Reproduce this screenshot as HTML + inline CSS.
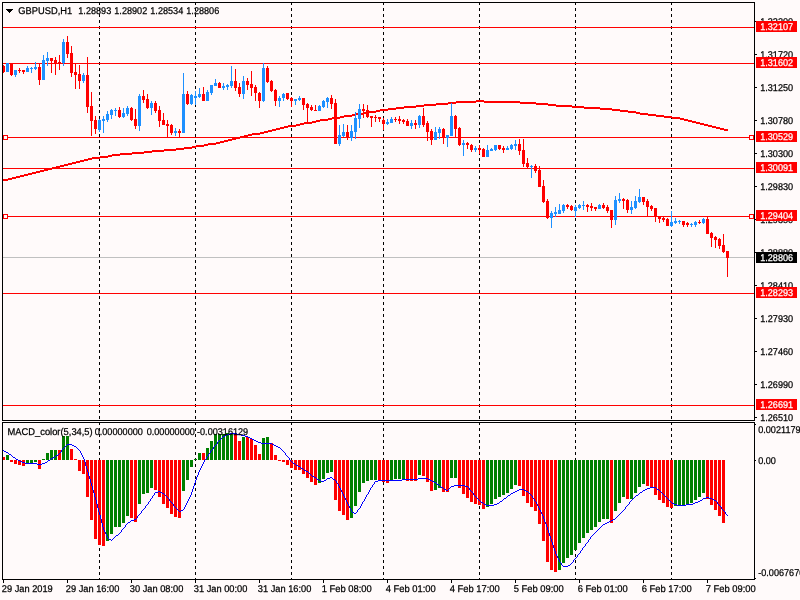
<!DOCTYPE html>
<html><head><meta charset="utf-8"><title>GBPUSD,H1</title>
<style>
html,body{margin:0;padding:0;background:#FFFAFA;}
body{width:800px;height:600px;overflow:hidden;font-family:"Liberation Sans",Arial,sans-serif;}
svg{display:block;}
</style></head><body>
<svg width="800" height="600" viewBox="0 0 800 600" shape-rendering="crispEdges">
<rect width="800" height="600" fill="#FFFAFA"/>
<line x1="99.5" y1="2" x2="99.5" y2="420" stroke="#000" stroke-width="1" stroke-dasharray="3 3"/>
<line x1="99.5" y1="422" x2="99.5" y2="579" stroke="#000" stroke-width="1" stroke-dasharray="3 3"/>
<line x1="195.5" y1="2" x2="195.5" y2="420" stroke="#000" stroke-width="1" stroke-dasharray="3 3"/>
<line x1="195.5" y1="422" x2="195.5" y2="579" stroke="#000" stroke-width="1" stroke-dasharray="3 3"/>
<line x1="291.5" y1="2" x2="291.5" y2="420" stroke="#000" stroke-width="1" stroke-dasharray="3 3"/>
<line x1="291.5" y1="422" x2="291.5" y2="579" stroke="#000" stroke-width="1" stroke-dasharray="3 3"/>
<line x1="383.5" y1="2" x2="383.5" y2="420" stroke="#000" stroke-width="1" stroke-dasharray="3 3"/>
<line x1="383.5" y1="422" x2="383.5" y2="579" stroke="#000" stroke-width="1" stroke-dasharray="3 3"/>
<line x1="479.5" y1="2" x2="479.5" y2="420" stroke="#000" stroke-width="1" stroke-dasharray="3 3"/>
<line x1="479.5" y1="422" x2="479.5" y2="579" stroke="#000" stroke-width="1" stroke-dasharray="3 3"/>
<line x1="575.5" y1="2" x2="575.5" y2="420" stroke="#000" stroke-width="1" stroke-dasharray="3 3"/>
<line x1="575.5" y1="422" x2="575.5" y2="579" stroke="#000" stroke-width="1" stroke-dasharray="3 3"/>
<line x1="671.5" y1="2" x2="671.5" y2="420" stroke="#000" stroke-width="1" stroke-dasharray="3 3"/>
<line x1="671.5" y1="422" x2="671.5" y2="579" stroke="#000" stroke-width="1" stroke-dasharray="3 3"/>
<rect x="3" y="257" width="751" height="1" fill="#C0C0C0"/>
<rect x="3" y="27" width="751" height="1" fill="#FF0000"/>
<rect x="3" y="63" width="751" height="1" fill="#FF0000"/>
<rect x="3" y="137" width="751" height="1" fill="#FF0000"/>
<rect x="3" y="168" width="751" height="1" fill="#FF0000"/>
<rect x="3" y="216" width="751" height="1" fill="#FF0000"/>
<rect x="3" y="293" width="751" height="1" fill="#FF0000"/>
<rect x="3" y="405" width="751" height="1" fill="#FF0000"/>
<rect x="3" y="179" width="5" height="2" fill="#FF0000"/>
<rect x="8" y="178" width="4" height="2" fill="#FF0000"/>
<rect x="12" y="177" width="4" height="2" fill="#FF0000"/>
<rect x="16" y="176" width="4" height="2" fill="#FF0000"/>
<rect x="20" y="175" width="4" height="2" fill="#FF0000"/>
<rect x="24" y="174" width="4" height="2" fill="#FF0000"/>
<rect x="28" y="173" width="4" height="2" fill="#FF0000"/>
<rect x="32" y="172" width="4" height="2" fill="#FF0000"/>
<rect x="36" y="171" width="4" height="2" fill="#FF0000"/>
<rect x="40" y="170" width="4" height="2" fill="#FF0000"/>
<rect x="44" y="169" width="4" height="2" fill="#FF0000"/>
<rect x="48" y="168" width="4" height="2" fill="#FF0000"/>
<rect x="52" y="167" width="4" height="2" fill="#FF0000"/>
<rect x="56" y="166" width="4" height="2" fill="#FF0000"/>
<rect x="60" y="165" width="4" height="2" fill="#FF0000"/>
<rect x="64" y="164" width="4" height="2" fill="#FF0000"/>
<rect x="68" y="163" width="4" height="2" fill="#FF0000"/>
<rect x="72" y="162" width="4" height="2" fill="#FF0000"/>
<rect x="76" y="161" width="4" height="2" fill="#FF0000"/>
<rect x="80" y="160" width="4" height="2" fill="#FF0000"/>
<rect x="84" y="159" width="4" height="2" fill="#FF0000"/>
<rect x="88" y="158" width="4" height="2" fill="#FF0000"/>
<rect x="92" y="157" width="8" height="2" fill="#FF0000"/>
<rect x="100" y="156" width="8" height="2" fill="#FF0000"/>
<rect x="108" y="155" width="4" height="2" fill="#FF0000"/>
<rect x="112" y="154" width="8" height="2" fill="#FF0000"/>
<rect x="120" y="153" width="12" height="2" fill="#FF0000"/>
<rect x="132" y="152" width="12" height="2" fill="#FF0000"/>
<rect x="144" y="151" width="8" height="2" fill="#FF0000"/>
<rect x="152" y="150" width="12" height="2" fill="#FF0000"/>
<rect x="164" y="149" width="12" height="2" fill="#FF0000"/>
<rect x="176" y="148" width="8" height="2" fill="#FF0000"/>
<rect x="184" y="147" width="8" height="2" fill="#FF0000"/>
<rect x="192" y="146" width="4" height="2" fill="#FF0000"/>
<rect x="196" y="145" width="8" height="2" fill="#FF0000"/>
<rect x="204" y="144" width="4" height="2" fill="#FF0000"/>
<rect x="208" y="143" width="8" height="2" fill="#FF0000"/>
<rect x="216" y="142" width="4" height="2" fill="#FF0000"/>
<rect x="220" y="141" width="4" height="2" fill="#FF0000"/>
<rect x="224" y="140" width="4" height="2" fill="#FF0000"/>
<rect x="228" y="139" width="4" height="2" fill="#FF0000"/>
<rect x="232" y="138" width="4" height="2" fill="#FF0000"/>
<rect x="236" y="137" width="4" height="2" fill="#FF0000"/>
<rect x="240" y="136" width="4" height="2" fill="#FF0000"/>
<rect x="244" y="135" width="4" height="2" fill="#FF0000"/>
<rect x="248" y="134" width="4" height="2" fill="#FF0000"/>
<rect x="252" y="133" width="8" height="2" fill="#FF0000"/>
<rect x="260" y="132" width="4" height="2" fill="#FF0000"/>
<rect x="264" y="131" width="4" height="2" fill="#FF0000"/>
<rect x="268" y="130" width="4" height="2" fill="#FF0000"/>
<rect x="272" y="129" width="4" height="2" fill="#FF0000"/>
<rect x="276" y="128" width="4" height="2" fill="#FF0000"/>
<rect x="280" y="127" width="4" height="2" fill="#FF0000"/>
<rect x="284" y="126" width="4" height="2" fill="#FF0000"/>
<rect x="288" y="125" width="8" height="2" fill="#FF0000"/>
<rect x="296" y="124" width="4" height="2" fill="#FF0000"/>
<rect x="300" y="123" width="4" height="2" fill="#FF0000"/>
<rect x="304" y="122" width="8" height="2" fill="#FF0000"/>
<rect x="312" y="121" width="4" height="2" fill="#FF0000"/>
<rect x="316" y="120" width="4" height="2" fill="#FF0000"/>
<rect x="320" y="119" width="8" height="2" fill="#FF0000"/>
<rect x="328" y="118" width="4" height="2" fill="#FF0000"/>
<rect x="332" y="117" width="8" height="2" fill="#FF0000"/>
<rect x="340" y="116" width="4" height="2" fill="#FF0000"/>
<rect x="344" y="115" width="8" height="2" fill="#FF0000"/>
<rect x="352" y="114" width="4" height="2" fill="#FF0000"/>
<rect x="356" y="113" width="8" height="2" fill="#FF0000"/>
<rect x="364" y="112" width="4" height="2" fill="#FF0000"/>
<rect x="368" y="111" width="8" height="2" fill="#FF0000"/>
<rect x="376" y="110" width="4" height="2" fill="#FF0000"/>
<rect x="380" y="109" width="8" height="2" fill="#FF0000"/>
<rect x="388" y="108" width="8" height="2" fill="#FF0000"/>
<rect x="396" y="107" width="8" height="2" fill="#FF0000"/>
<rect x="404" y="106" width="12" height="2" fill="#FF0000"/>
<rect x="416" y="105" width="8" height="2" fill="#FF0000"/>
<rect x="424" y="104" width="12" height="2" fill="#FF0000"/>
<rect x="436" y="103" width="12" height="2" fill="#FF0000"/>
<rect x="448" y="102" width="8" height="2" fill="#FF0000"/>
<rect x="456" y="101" width="20" height="2" fill="#FF0000"/>
<rect x="476" y="100" width="8" height="2" fill="#FF0000"/>
<rect x="484" y="101" width="36" height="2" fill="#FF0000"/>
<rect x="520" y="102" width="16" height="2" fill="#FF0000"/>
<rect x="536" y="103" width="12" height="2" fill="#FF0000"/>
<rect x="548" y="104" width="8" height="2" fill="#FF0000"/>
<rect x="556" y="105" width="16" height="2" fill="#FF0000"/>
<rect x="572" y="106" width="12" height="2" fill="#FF0000"/>
<rect x="584" y="107" width="16" height="2" fill="#FF0000"/>
<rect x="600" y="108" width="12" height="2" fill="#FF0000"/>
<rect x="612" y="109" width="8" height="2" fill="#FF0000"/>
<rect x="620" y="110" width="8" height="2" fill="#FF0000"/>
<rect x="628" y="111" width="8" height="2" fill="#FF0000"/>
<rect x="636" y="112" width="4" height="2" fill="#FF0000"/>
<rect x="640" y="113" width="8" height="2" fill="#FF0000"/>
<rect x="648" y="114" width="8" height="2" fill="#FF0000"/>
<rect x="656" y="115" width="8" height="2" fill="#FF0000"/>
<rect x="664" y="116" width="8" height="2" fill="#FF0000"/>
<rect x="672" y="117" width="8" height="2" fill="#FF0000"/>
<rect x="680" y="118" width="4" height="2" fill="#FF0000"/>
<rect x="684" y="119" width="4" height="2" fill="#FF0000"/>
<rect x="688" y="120" width="4" height="2" fill="#FF0000"/>
<rect x="692" y="121" width="4" height="2" fill="#FF0000"/>
<rect x="696" y="122" width="4" height="2" fill="#FF0000"/>
<rect x="700" y="123" width="4" height="2" fill="#FF0000"/>
<rect x="704" y="124" width="4" height="2" fill="#FF0000"/>
<rect x="708" y="125" width="4" height="2" fill="#FF0000"/>
<rect x="712" y="126" width="4" height="2" fill="#FF0000"/>
<rect x="716" y="127" width="4" height="2" fill="#FF0000"/>
<rect x="720" y="128" width="4" height="2" fill="#FF0000"/>
<rect x="724" y="129" width="4" height="2" fill="#FF0000"/>
<rect x="3" y="65.0" width="1" height="8.0" fill="#FF0000"/>
<rect x="2" y="66.0" width="3" height="6.0" fill="#FF0000"/>
<rect x="7" y="63.0" width="1" height="9.0" fill="#1E90FF"/>
<rect x="6" y="63.0" width="3" height="9.0" fill="#1E90FF"/>
<rect x="11" y="63.0" width="1" height="13.0" fill="#FF0000"/>
<rect x="10" y="64.0" width="3" height="11.0" fill="#FF0000"/>
<rect x="15" y="70.0" width="1" height="7.0" fill="#1E90FF"/>
<rect x="14" y="70.0" width="3" height="5.0" fill="#1E90FF"/>
<rect x="19" y="68.0" width="1" height="5.0" fill="#FF0000"/>
<rect x="18" y="70.0" width="3" height="1.0" fill="#FF0000"/>
<rect x="23" y="70.0" width="1" height="4.0" fill="#FF0000"/>
<rect x="22" y="70.0" width="3" height="2.0" fill="#FF0000"/>
<rect x="27" y="66.0" width="1" height="6.0" fill="#1E90FF"/>
<rect x="26" y="68.0" width="3" height="4.0" fill="#1E90FF"/>
<rect x="31" y="67.0" width="1" height="6.0" fill="#1E90FF"/>
<rect x="30" y="68.0" width="3" height="1.0" fill="#1E90FF"/>
<rect x="35" y="62.0" width="1" height="8.0" fill="#1E90FF"/>
<rect x="34" y="67.0" width="3" height="2.0" fill="#1E90FF"/>
<rect x="39" y="64.0" width="1" height="21.0" fill="#FF0000"/>
<rect x="38" y="67.0" width="3" height="13.0" fill="#FF0000"/>
<rect x="43" y="55.0" width="1" height="25.0" fill="#1E90FF"/>
<rect x="42" y="60.0" width="3" height="20.0" fill="#1E90FF"/>
<rect x="47" y="52.0" width="1" height="14.0" fill="#1E90FF"/>
<rect x="46" y="58.0" width="3" height="3.0" fill="#1E90FF"/>
<rect x="51" y="58.0" width="1" height="15.0" fill="#FF0000"/>
<rect x="50" y="58.0" width="3" height="3.0" fill="#FF0000"/>
<rect x="55" y="57.0" width="1" height="18.0" fill="#FF0000"/>
<rect x="54" y="60.0" width="3" height="3.0" fill="#FF0000"/>
<rect x="59" y="55.0" width="1" height="15.0" fill="#FF0000"/>
<rect x="58" y="62.0" width="3" height="2.0" fill="#FF0000"/>
<rect x="63" y="39.0" width="1" height="27.0" fill="#1E90FF"/>
<rect x="62" y="42.0" width="3" height="21.0" fill="#1E90FF"/>
<rect x="67" y="36.0" width="1" height="22.0" fill="#FF0000"/>
<rect x="66" y="42.0" width="3" height="12.0" fill="#FF0000"/>
<rect x="71" y="46.0" width="1" height="31.0" fill="#FF0000"/>
<rect x="70" y="53.0" width="3" height="20.0" fill="#FF0000"/>
<rect x="75" y="64.0" width="1" height="25.0" fill="#FF0000"/>
<rect x="74" y="72.0" width="3" height="3.0" fill="#FF0000"/>
<rect x="79" y="65.0" width="1" height="24.0" fill="#FF0000"/>
<rect x="78" y="74.0" width="3" height="7.0" fill="#FF0000"/>
<rect x="83" y="73.0" width="1" height="10.0" fill="#1E90FF"/>
<rect x="82" y="75.0" width="3" height="6.0" fill="#1E90FF"/>
<rect x="87" y="57.0" width="1" height="56.0" fill="#FF0000"/>
<rect x="86" y="75.0" width="3" height="32.0" fill="#FF0000"/>
<rect x="91" y="92.0" width="1" height="44.0" fill="#FF0000"/>
<rect x="90" y="106.0" width="3" height="15.0" fill="#FF0000"/>
<rect x="95" y="116.0" width="1" height="18.0" fill="#FF0000"/>
<rect x="94" y="120.0" width="3" height="9.0" fill="#FF0000"/>
<rect x="99" y="119.0" width="1" height="13.0" fill="#1E90FF"/>
<rect x="98" y="120.0" width="3" height="10.0" fill="#1E90FF"/>
<rect x="103" y="116.0" width="1" height="17.0" fill="#1E90FF"/>
<rect x="102" y="119.0" width="3" height="2.0" fill="#1E90FF"/>
<rect x="107" y="111.0" width="1" height="11.0" fill="#1E90FF"/>
<rect x="106" y="114.0" width="3" height="6.0" fill="#1E90FF"/>
<rect x="111" y="109.0" width="1" height="10.0" fill="#1E90FF"/>
<rect x="110" y="110.0" width="3" height="5.0" fill="#1E90FF"/>
<rect x="115" y="108.0" width="1" height="8.0" fill="#1E90FF"/>
<rect x="114" y="110.0" width="3" height="1.0" fill="#1E90FF"/>
<rect x="119" y="107.0" width="1" height="11.0" fill="#FF0000"/>
<rect x="118" y="110.0" width="3" height="7.0" fill="#FF0000"/>
<rect x="123" y="108.0" width="1" height="10.0" fill="#1E90FF"/>
<rect x="122" y="113.0" width="3" height="4.0" fill="#1E90FF"/>
<rect x="127" y="106.0" width="1" height="10.0" fill="#1E90FF"/>
<rect x="126" y="108.0" width="3" height="6.0" fill="#1E90FF"/>
<rect x="131" y="107.0" width="1" height="14.0" fill="#FF0000"/>
<rect x="130" y="108.0" width="3" height="12.0" fill="#FF0000"/>
<rect x="135" y="109.0" width="1" height="20.0" fill="#FF0000"/>
<rect x="134" y="119.0" width="3" height="7.0" fill="#FF0000"/>
<rect x="139" y="94.0" width="1" height="37.0" fill="#1E90FF"/>
<rect x="138" y="96.0" width="3" height="30.0" fill="#1E90FF"/>
<rect x="143" y="90.0" width="1" height="13.0" fill="#FF0000"/>
<rect x="142" y="96.0" width="3" height="4.0" fill="#FF0000"/>
<rect x="147" y="94.0" width="1" height="15.0" fill="#FF0000"/>
<rect x="146" y="99.0" width="3" height="9.0" fill="#FF0000"/>
<rect x="151" y="101.0" width="1" height="14.0" fill="#1E90FF"/>
<rect x="150" y="103.0" width="3" height="5.0" fill="#1E90FF"/>
<rect x="155" y="101.0" width="1" height="12.0" fill="#FF0000"/>
<rect x="154" y="103.0" width="3" height="8.0" fill="#FF0000"/>
<rect x="159" y="106.0" width="1" height="21.0" fill="#FF0000"/>
<rect x="158" y="110.0" width="3" height="11.0" fill="#FF0000"/>
<rect x="163" y="113.0" width="1" height="12.0" fill="#FF0000"/>
<rect x="162" y="120.0" width="3" height="5.0" fill="#FF0000"/>
<rect x="167" y="120.0" width="1" height="17.0" fill="#FF0000"/>
<rect x="166" y="124.0" width="3" height="2.0" fill="#FF0000"/>
<rect x="171" y="124.0" width="1" height="11.0" fill="#FF0000"/>
<rect x="170" y="125.0" width="3" height="8.0" fill="#FF0000"/>
<rect x="175" y="128.0" width="1" height="8.0" fill="#1E90FF"/>
<rect x="174" y="131.0" width="3" height="2.0" fill="#1E90FF"/>
<rect x="179" y="129.0" width="1" height="8.0" fill="#FF0000"/>
<rect x="178" y="131.0" width="3" height="2.0" fill="#FF0000"/>
<rect x="183" y="73.0" width="1" height="60.0" fill="#1E90FF"/>
<rect x="182" y="94.0" width="3" height="39.0" fill="#1E90FF"/>
<rect x="187" y="91.0" width="1" height="14.0" fill="#FF0000"/>
<rect x="186" y="94.0" width="3" height="10.0" fill="#FF0000"/>
<rect x="191" y="94.0" width="1" height="11.0" fill="#1E90FF"/>
<rect x="190" y="95.0" width="3" height="9.0" fill="#1E90FF"/>
<rect x="195" y="91.0" width="1" height="14.0" fill="#1E90FF"/>
<rect x="194" y="96.0" width="3" height="2.0" fill="#1E90FF"/>
<rect x="199" y="88.0" width="1" height="10.0" fill="#1E90FF"/>
<rect x="198" y="94.0" width="3" height="3.0" fill="#1E90FF"/>
<rect x="203" y="87.0" width="1" height="14.0" fill="#FF0000"/>
<rect x="202" y="94.0" width="3" height="7.0" fill="#FF0000"/>
<rect x="207" y="90.0" width="1" height="11.0" fill="#1E90FF"/>
<rect x="206" y="92.0" width="3" height="9.0" fill="#1E90FF"/>
<rect x="211" y="85.0" width="1" height="10.0" fill="#1E90FF"/>
<rect x="210" y="85.0" width="3" height="8.0" fill="#1E90FF"/>
<rect x="215" y="79.0" width="1" height="7.0" fill="#1E90FF"/>
<rect x="214" y="83.0" width="3" height="3.0" fill="#1E90FF"/>
<rect x="219" y="82.0" width="1" height="6.0" fill="#FF0000"/>
<rect x="218" y="83.0" width="3" height="5.0" fill="#FF0000"/>
<rect x="223" y="83.0" width="1" height="7.0" fill="#1E90FF"/>
<rect x="222" y="86.0" width="3" height="2.0" fill="#1E90FF"/>
<rect x="227" y="84.0" width="1" height="6.0" fill="#1E90FF"/>
<rect x="226" y="85.0" width="3" height="2.0" fill="#1E90FF"/>
<rect x="231" y="66.0" width="1" height="22.0" fill="#1E90FF"/>
<rect x="230" y="81.0" width="3" height="5.0" fill="#1E90FF"/>
<rect x="235" y="69.0" width="1" height="22.0" fill="#FF0000"/>
<rect x="234" y="81.0" width="3" height="7.0" fill="#FF0000"/>
<rect x="239" y="83.0" width="1" height="14.0" fill="#FF0000"/>
<rect x="238" y="87.0" width="3" height="7.0" fill="#FF0000"/>
<rect x="243" y="76.0" width="1" height="23.0" fill="#1E90FF"/>
<rect x="242" y="81.0" width="3" height="13.0" fill="#1E90FF"/>
<rect x="247" y="78.0" width="1" height="12.0" fill="#FF0000"/>
<rect x="246" y="81.0" width="3" height="4.0" fill="#FF0000"/>
<rect x="251" y="71.0" width="1" height="25.0" fill="#FF0000"/>
<rect x="250" y="84.0" width="3" height="4.0" fill="#FF0000"/>
<rect x="255" y="85.0" width="1" height="16.0" fill="#FF0000"/>
<rect x="254" y="87.0" width="3" height="6.0" fill="#FF0000"/>
<rect x="259" y="92.0" width="1" height="16.0" fill="#FF0000"/>
<rect x="258" y="93.0" width="3" height="8.0" fill="#FF0000"/>
<rect x="263" y="63.0" width="1" height="39.0" fill="#1E90FF"/>
<rect x="262" y="68.0" width="3" height="33.0" fill="#1E90FF"/>
<rect x="267" y="66.0" width="1" height="17.0" fill="#FF0000"/>
<rect x="266" y="68.0" width="3" height="14.0" fill="#FF0000"/>
<rect x="271" y="80.0" width="1" height="12.0" fill="#FF0000"/>
<rect x="270" y="81.0" width="3" height="10.0" fill="#FF0000"/>
<rect x="275" y="89.0" width="1" height="17.0" fill="#FF0000"/>
<rect x="274" y="90.0" width="3" height="11.0" fill="#FF0000"/>
<rect x="279" y="96.0" width="1" height="11.0" fill="#1E90FF"/>
<rect x="278" y="98.0" width="3" height="3.0" fill="#1E90FF"/>
<rect x="283" y="93.0" width="1" height="8.0" fill="#1E90FF"/>
<rect x="282" y="94.0" width="3" height="4.0" fill="#1E90FF"/>
<rect x="287" y="93.0" width="1" height="7.0" fill="#FF0000"/>
<rect x="286" y="93.0" width="3" height="6.0" fill="#FF0000"/>
<rect x="291" y="97.0" width="1" height="10.0" fill="#FF0000"/>
<rect x="290" y="98.0" width="3" height="3.0" fill="#FF0000"/>
<rect x="295" y="99.0" width="1" height="6.0" fill="#1E90FF"/>
<rect x="294" y="99.0" width="3" height="2.0" fill="#1E90FF"/>
<rect x="299" y="96.0" width="1" height="5.0" fill="#1E90FF"/>
<rect x="298" y="98.0" width="3" height="2.0" fill="#1E90FF"/>
<rect x="303" y="98.0" width="1" height="12.0" fill="#FF0000"/>
<rect x="302" y="98.0" width="3" height="7.0" fill="#FF0000"/>
<rect x="307" y="103.0" width="1" height="19.0" fill="#FF0000"/>
<rect x="306" y="104.0" width="3" height="4.0" fill="#FF0000"/>
<rect x="311" y="105.0" width="1" height="6.0" fill="#FF0000"/>
<rect x="310" y="107.0" width="3" height="3.0" fill="#FF0000"/>
<rect x="315" y="105.0" width="1" height="6.0" fill="#FF0000"/>
<rect x="314" y="110.0" width="3" height="1.0" fill="#FF0000"/>
<rect x="319" y="105.0" width="1" height="6.0" fill="#1E90FF"/>
<rect x="318" y="106.0" width="3" height="5.0" fill="#1E90FF"/>
<rect x="323" y="100.0" width="1" height="8.0" fill="#1E90FF"/>
<rect x="322" y="101.0" width="3" height="6.0" fill="#1E90FF"/>
<rect x="327" y="97.0" width="1" height="11.0" fill="#1E90FF"/>
<rect x="326" y="98.0" width="3" height="4.0" fill="#1E90FF"/>
<rect x="331" y="95.0" width="1" height="14.0" fill="#FF0000"/>
<rect x="330" y="98.0" width="3" height="6.0" fill="#FF0000"/>
<rect x="335" y="99.0" width="1" height="45.0" fill="#FF0000"/>
<rect x="334" y="103.0" width="3" height="41.0" fill="#FF0000"/>
<rect x="339" y="125.0" width="1" height="21.0" fill="#1E90FF"/>
<rect x="338" y="135.0" width="3" height="9.0" fill="#1E90FF"/>
<rect x="343" y="124.0" width="1" height="13.0" fill="#1E90FF"/>
<rect x="342" y="132.0" width="3" height="4.0" fill="#1E90FF"/>
<rect x="347" y="125.0" width="1" height="15.0" fill="#FF0000"/>
<rect x="346" y="132.0" width="3" height="5.0" fill="#FF0000"/>
<rect x="351" y="125.0" width="1" height="16.0" fill="#1E90FF"/>
<rect x="350" y="131.0" width="3" height="7.0" fill="#1E90FF"/>
<rect x="355" y="112.0" width="1" height="27.0" fill="#1E90FF"/>
<rect x="354" y="118.0" width="3" height="14.0" fill="#1E90FF"/>
<rect x="359" y="104.0" width="1" height="24.0" fill="#1E90FF"/>
<rect x="358" y="109.0" width="3" height="10.0" fill="#1E90FF"/>
<rect x="363" y="104.0" width="1" height="14.0" fill="#FF0000"/>
<rect x="362" y="109.0" width="3" height="2.0" fill="#FF0000"/>
<rect x="367" y="105.0" width="1" height="13.0" fill="#FF0000"/>
<rect x="366" y="110.0" width="3" height="7.0" fill="#FF0000"/>
<rect x="371" y="116.0" width="1" height="11.0" fill="#FF0000"/>
<rect x="370" y="116.0" width="3" height="2.0" fill="#FF0000"/>
<rect x="375" y="115.0" width="1" height="7.0" fill="#FF0000"/>
<rect x="374" y="117.0" width="3" height="1.0" fill="#FF0000"/>
<rect x="379" y="117.0" width="1" height="5.0" fill="#FF0000"/>
<rect x="378" y="117.0" width="3" height="2.0" fill="#FF0000"/>
<rect x="383" y="118.0" width="1" height="12.0" fill="#FF0000"/>
<rect x="382" y="120.0" width="3" height="4.0" fill="#FF0000"/>
<rect x="387" y="119.0" width="1" height="6.0" fill="#1E90FF"/>
<rect x="386" y="122.0" width="3" height="2.0" fill="#1E90FF"/>
<rect x="391" y="117.0" width="1" height="6.0" fill="#1E90FF"/>
<rect x="390" y="119.0" width="3" height="4.0" fill="#1E90FF"/>
<rect x="395" y="117.0" width="1" height="5.0" fill="#FF0000"/>
<rect x="394" y="119.0" width="3" height="1.0" fill="#FF0000"/>
<rect x="399" y="116.0" width="1" height="8.0" fill="#FF0000"/>
<rect x="398" y="119.0" width="3" height="2.0" fill="#FF0000"/>
<rect x="403" y="119.0" width="1" height="5.0" fill="#FF0000"/>
<rect x="402" y="120.0" width="3" height="2.0" fill="#FF0000"/>
<rect x="407" y="119.0" width="1" height="7.0" fill="#FF0000"/>
<rect x="406" y="121.0" width="3" height="5.0" fill="#FF0000"/>
<rect x="411" y="120.0" width="1" height="9.0" fill="#1E90FF"/>
<rect x="410" y="123.0" width="3" height="3.0" fill="#1E90FF"/>
<rect x="415" y="120.0" width="1" height="9.0" fill="#FF0000"/>
<rect x="414" y="123.0" width="3" height="2.0" fill="#FF0000"/>
<rect x="419" y="115.0" width="1" height="13.0" fill="#1E90FF"/>
<rect x="418" y="116.0" width="3" height="9.0" fill="#1E90FF"/>
<rect x="423" y="108.0" width="1" height="19.0" fill="#FF0000"/>
<rect x="422" y="116.0" width="3" height="9.0" fill="#FF0000"/>
<rect x="427" y="121.0" width="1" height="20.0" fill="#FF0000"/>
<rect x="426" y="123.0" width="3" height="9.0" fill="#FF0000"/>
<rect x="431" y="129.0" width="1" height="16.0" fill="#FF0000"/>
<rect x="430" y="131.0" width="3" height="9.0" fill="#FF0000"/>
<rect x="435" y="127.0" width="1" height="13.0" fill="#1E90FF"/>
<rect x="434" y="132.0" width="3" height="8.0" fill="#1E90FF"/>
<rect x="439" y="127.0" width="1" height="12.0" fill="#1E90FF"/>
<rect x="438" y="129.0" width="3" height="4.0" fill="#1E90FF"/>
<rect x="443" y="128.0" width="1" height="16.0" fill="#FF0000"/>
<rect x="442" y="129.0" width="3" height="9.0" fill="#FF0000"/>
<rect x="447" y="135.0" width="1" height="12.0" fill="#1E90FF"/>
<rect x="446" y="135.0" width="3" height="3.0" fill="#1E90FF"/>
<rect x="451" y="103.0" width="1" height="33.0" fill="#1E90FF"/>
<rect x="450" y="116.0" width="3" height="20.0" fill="#1E90FF"/>
<rect x="455" y="115.0" width="1" height="23.0" fill="#FF0000"/>
<rect x="454" y="116.0" width="3" height="13.0" fill="#FF0000"/>
<rect x="459" y="127.0" width="1" height="19.0" fill="#FF0000"/>
<rect x="458" y="128.0" width="3" height="17.0" fill="#FF0000"/>
<rect x="463" y="140.0" width="1" height="16.0" fill="#1E90FF"/>
<rect x="462" y="143.0" width="3" height="2.0" fill="#1E90FF"/>
<rect x="467" y="142.0" width="1" height="7.0" fill="#FF0000"/>
<rect x="466" y="143.0" width="3" height="2.0" fill="#FF0000"/>
<rect x="471" y="144.0" width="1" height="8.0" fill="#FF0000"/>
<rect x="470" y="145.0" width="3" height="5.0" fill="#FF0000"/>
<rect x="475" y="146.0" width="1" height="6.0" fill="#1E90FF"/>
<rect x="474" y="148.0" width="3" height="2.0" fill="#1E90FF"/>
<rect x="479" y="145.0" width="1" height="9.0" fill="#FF0000"/>
<rect x="478" y="148.0" width="3" height="2.0" fill="#FF0000"/>
<rect x="483" y="148.0" width="1" height="9.0" fill="#FF0000"/>
<rect x="482" y="149.0" width="3" height="8.0" fill="#FF0000"/>
<rect x="487" y="145.0" width="1" height="12.0" fill="#1E90FF"/>
<rect x="486" y="150.0" width="3" height="7.0" fill="#1E90FF"/>
<rect x="491" y="148.0" width="1" height="3.0" fill="#1E90FF"/>
<rect x="490" y="149.0" width="3" height="2.0" fill="#1E90FF"/>
<rect x="495" y="145.0" width="1" height="6.0" fill="#1E90FF"/>
<rect x="494" y="145.0" width="3" height="5.0" fill="#1E90FF"/>
<rect x="499" y="145.0" width="1" height="5.0" fill="#FF0000"/>
<rect x="498" y="145.0" width="3" height="4.0" fill="#FF0000"/>
<rect x="503" y="146.0" width="1" height="7.0" fill="#FF0000"/>
<rect x="502" y="148.0" width="3" height="2.0" fill="#FF0000"/>
<rect x="507" y="146.0" width="1" height="4.0" fill="#1E90FF"/>
<rect x="506" y="148.0" width="3" height="2.0" fill="#1E90FF"/>
<rect x="511" y="144.0" width="1" height="6.0" fill="#1E90FF"/>
<rect x="510" y="145.0" width="3" height="4.0" fill="#1E90FF"/>
<rect x="515" y="140.0" width="1" height="10.0" fill="#1E90FF"/>
<rect x="514" y="144.0" width="3" height="2.0" fill="#1E90FF"/>
<rect x="519" y="139.0" width="1" height="16.0" fill="#FF0000"/>
<rect x="518" y="144.0" width="3" height="7.0" fill="#FF0000"/>
<rect x="523" y="139.0" width="1" height="28.0" fill="#FF0000"/>
<rect x="522" y="150.0" width="3" height="14.0" fill="#FF0000"/>
<rect x="527" y="158.0" width="1" height="10.0" fill="#FF0000"/>
<rect x="526" y="163.0" width="3" height="4.0" fill="#FF0000"/>
<rect x="531" y="165.0" width="1" height="13.0" fill="#1E90FF"/>
<rect x="530" y="166.0" width="3" height="1.0" fill="#1E90FF"/>
<rect x="535" y="164.0" width="1" height="9.0" fill="#FF0000"/>
<rect x="534" y="166.0" width="3" height="5.0" fill="#FF0000"/>
<rect x="539" y="166.0" width="1" height="21.0" fill="#FF0000"/>
<rect x="538" y="170.0" width="3" height="17.0" fill="#FF0000"/>
<rect x="543" y="180.0" width="1" height="23.0" fill="#FF0000"/>
<rect x="542" y="186.0" width="3" height="16.0" fill="#FF0000"/>
<rect x="547" y="199.0" width="1" height="20.0" fill="#FF0000"/>
<rect x="546" y="201.0" width="3" height="17.0" fill="#FF0000"/>
<rect x="551" y="211.0" width="1" height="17.0" fill="#1E90FF"/>
<rect x="550" y="213.0" width="3" height="5.0" fill="#1E90FF"/>
<rect x="555" y="207.0" width="1" height="10.0" fill="#1E90FF"/>
<rect x="554" y="212.0" width="3" height="2.0" fill="#1E90FF"/>
<rect x="559" y="204.0" width="1" height="10.0" fill="#1E90FF"/>
<rect x="558" y="210.0" width="3" height="4.0" fill="#1E90FF"/>
<rect x="563" y="204.0" width="1" height="9.0" fill="#1E90FF"/>
<rect x="562" y="205.0" width="3" height="6.0" fill="#1E90FF"/>
<rect x="567" y="204.0" width="1" height="5.0" fill="#FF0000"/>
<rect x="566" y="205.0" width="3" height="2.0" fill="#FF0000"/>
<rect x="571" y="205.0" width="1" height="6.0" fill="#FF0000"/>
<rect x="570" y="206.0" width="3" height="4.0" fill="#FF0000"/>
<rect x="575" y="205.0" width="1" height="12.0" fill="#1E90FF"/>
<rect x="574" y="207.0" width="3" height="4.0" fill="#1E90FF"/>
<rect x="579" y="204.0" width="1" height="5.0" fill="#1E90FF"/>
<rect x="578" y="205.0" width="3" height="3.0" fill="#1E90FF"/>
<rect x="583" y="201.0" width="1" height="9.0" fill="#1E90FF"/>
<rect x="582" y="205.0" width="3" height="1.0" fill="#1E90FF"/>
<rect x="587" y="204.0" width="1" height="8.0" fill="#FF0000"/>
<rect x="586" y="205.0" width="3" height="2.0" fill="#FF0000"/>
<rect x="591" y="203.0" width="1" height="8.0" fill="#FF0000"/>
<rect x="590" y="206.0" width="3" height="2.0" fill="#FF0000"/>
<rect x="595" y="207.0" width="1" height="4.0" fill="#FF0000"/>
<rect x="594" y="207.0" width="3" height="2.0" fill="#FF0000"/>
<rect x="599" y="204.0" width="1" height="5.0" fill="#1E90FF"/>
<rect x="598" y="205.0" width="3" height="4.0" fill="#1E90FF"/>
<rect x="603" y="203.0" width="1" height="6.0" fill="#FF0000"/>
<rect x="602" y="205.0" width="3" height="3.0" fill="#FF0000"/>
<rect x="607" y="205.0" width="1" height="8.0" fill="#FF0000"/>
<rect x="606" y="207.0" width="3" height="4.0" fill="#FF0000"/>
<rect x="611" y="210.0" width="1" height="18.0" fill="#FF0000"/>
<rect x="610" y="210.0" width="3" height="10.0" fill="#FF0000"/>
<rect x="615" y="196.0" width="1" height="29.0" fill="#1E90FF"/>
<rect x="614" y="200.0" width="3" height="20.0" fill="#1E90FF"/>
<rect x="619" y="193.0" width="1" height="10.0" fill="#1E90FF"/>
<rect x="618" y="199.0" width="3" height="2.0" fill="#1E90FF"/>
<rect x="623" y="198.0" width="1" height="11.0" fill="#FF0000"/>
<rect x="622" y="199.0" width="3" height="2.0" fill="#FF0000"/>
<rect x="627" y="199.0" width="1" height="14.0" fill="#FF0000"/>
<rect x="626" y="200.0" width="3" height="10.0" fill="#FF0000"/>
<rect x="631" y="201.0" width="1" height="13.0" fill="#1E90FF"/>
<rect x="630" y="207.0" width="3" height="3.0" fill="#1E90FF"/>
<rect x="635" y="196.0" width="1" height="13.0" fill="#1E90FF"/>
<rect x="634" y="201.0" width="3" height="7.0" fill="#1E90FF"/>
<rect x="639" y="189.0" width="1" height="14.0" fill="#1E90FF"/>
<rect x="638" y="197.0" width="3" height="5.0" fill="#1E90FF"/>
<rect x="643" y="197.0" width="1" height="8.0" fill="#FF0000"/>
<rect x="642" y="197.0" width="3" height="5.0" fill="#FF0000"/>
<rect x="647" y="199.0" width="1" height="17.0" fill="#FF0000"/>
<rect x="646" y="201.0" width="3" height="6.0" fill="#FF0000"/>
<rect x="651" y="205.0" width="1" height="6.0" fill="#FF0000"/>
<rect x="650" y="206.0" width="3" height="3.0" fill="#FF0000"/>
<rect x="655" y="208.0" width="1" height="14.0" fill="#FF0000"/>
<rect x="654" y="208.0" width="3" height="9.0" fill="#FF0000"/>
<rect x="659" y="217.0" width="1" height="6.0" fill="#FF0000"/>
<rect x="658" y="217.0" width="3" height="2.0" fill="#FF0000"/>
<rect x="663" y="217.0" width="1" height="5.0" fill="#FF0000"/>
<rect x="662" y="218.0" width="3" height="2.0" fill="#FF0000"/>
<rect x="667" y="218.0" width="1" height="8.0" fill="#FF0000"/>
<rect x="666" y="219.0" width="3" height="7.0" fill="#FF0000"/>
<rect x="671" y="211.0" width="1" height="16.0" fill="#1E90FF"/>
<rect x="670" y="222.0" width="3" height="4.0" fill="#1E90FF"/>
<rect x="675" y="218.0" width="1" height="6.0" fill="#1E90FF"/>
<rect x="674" y="221.0" width="3" height="2.0" fill="#1E90FF"/>
<rect x="679" y="220.0" width="1" height="4.0" fill="#1E90FF"/>
<rect x="678" y="221.0" width="3" height="1.0" fill="#1E90FF"/>
<rect x="683" y="221.0" width="1" height="6.0" fill="#FF0000"/>
<rect x="682" y="221.0" width="3" height="4.0" fill="#FF0000"/>
<rect x="687" y="222.0" width="1" height="5.0" fill="#FF0000"/>
<rect x="686" y="223.0" width="3" height="2.0" fill="#FF0000"/>
<rect x="691" y="223.0" width="1" height="4.0" fill="#1E90FF"/>
<rect x="690" y="224.0" width="3" height="1.0" fill="#1E90FF"/>
<rect x="695" y="221.0" width="1" height="6.0" fill="#1E90FF"/>
<rect x="694" y="222.0" width="3" height="3.0" fill="#1E90FF"/>
<rect x="699" y="220.0" width="1" height="4.0" fill="#FF0000"/>
<rect x="698" y="222.0" width="3" height="1.0" fill="#FF0000"/>
<rect x="703" y="218.0" width="1" height="6.0" fill="#1E90FF"/>
<rect x="702" y="219.0" width="3" height="4.0" fill="#1E90FF"/>
<rect x="707" y="217.0" width="1" height="17.0" fill="#FF0000"/>
<rect x="706" y="219.0" width="3" height="15.0" fill="#FF0000"/>
<rect x="711" y="232.0" width="1" height="15.0" fill="#FF0000"/>
<rect x="710" y="233.0" width="3" height="5.0" fill="#FF0000"/>
<rect x="715" y="236.0" width="1" height="12.0" fill="#FF0000"/>
<rect x="714" y="237.0" width="3" height="3.0" fill="#FF0000"/>
<rect x="719" y="238.0" width="1" height="11.0" fill="#FF0000"/>
<rect x="718" y="239.0" width="3" height="7.0" fill="#FF0000"/>
<rect x="723" y="234.0" width="1" height="19.0" fill="#FF0000"/>
<rect x="722" y="245.0" width="3" height="7.0" fill="#FF0000"/>
<rect x="727" y="251.0" width="1" height="26.0" fill="#FF0000"/>
<rect x="726" y="251.0" width="3" height="7.0" fill="#FF0000"/>
<rect x="3" y="135" width="5" height="5" fill="#FF0000"/>
<rect x="4" y="136" width="3" height="3" fill="#FFFAFA"/>
<rect x="3" y="214" width="5" height="5" fill="#FF0000"/>
<rect x="4" y="215" width="3" height="3" fill="#FFFAFA"/>
<rect x="749" y="135" width="5" height="5" fill="#FF0000"/>
<rect x="750" y="136" width="3" height="3" fill="#FFFAFA"/>
<rect x="749" y="214" width="5" height="5" fill="#FF0000"/>
<rect x="750" y="215" width="3" height="3" fill="#FFFAFA"/>
<rect x="2" y="457.0" width="3" height="3.0" fill="#FF0000"/>
<rect x="6" y="455.0" width="3" height="5.0" fill="#008000"/>
<rect x="10" y="460" width="3" height="2.0" fill="#FF0000"/>
<rect x="14" y="460" width="3" height="4.0" fill="#FF0000"/>
<rect x="18" y="460" width="3" height="5.0" fill="#FF0000"/>
<rect x="22" y="460" width="3" height="6.0" fill="#FF0000"/>
<rect x="26" y="460" width="3" height="3.0" fill="#008000"/>
<rect x="30" y="460" width="3" height="3.0" fill="#008000"/>
<rect x="34" y="460" width="3" height="2.0" fill="#008000"/>
<rect x="38" y="460" width="3" height="9.0" fill="#FF0000"/>
<rect x="42" y="459.0" width="3" height="1.0" fill="#008000"/>
<rect x="46" y="453.0" width="3" height="7.0" fill="#008000"/>
<rect x="50" y="450.0" width="3" height="10.0" fill="#008000"/>
<rect x="54" y="450.0" width="3" height="10.0" fill="#008000"/>
<rect x="58" y="450.0" width="3" height="10.0" fill="#FF0000"/>
<rect x="62" y="436.0" width="3" height="24.0" fill="#008000"/>
<rect x="66" y="436.0" width="3" height="24.0" fill="#008000"/>
<rect x="70" y="449.0" width="3" height="11.0" fill="#FF0000"/>
<rect x="74" y="459.0" width="3" height="1.0" fill="#FF0000"/>
<rect x="78" y="460" width="3" height="11.0" fill="#FF0000"/>
<rect x="82" y="460" width="3" height="14.0" fill="#FF0000"/>
<rect x="86" y="460" width="3" height="37.0" fill="#FF0000"/>
<rect x="90" y="460" width="3" height="60.0" fill="#FF0000"/>
<rect x="94" y="460" width="3" height="79.0" fill="#FF0000"/>
<rect x="98" y="460" width="3" height="85.0" fill="#FF0000"/>
<rect x="102" y="460" width="3" height="86.0" fill="#FF0000"/>
<rect x="106" y="460" width="3" height="81.0" fill="#008000"/>
<rect x="110" y="460" width="3" height="74.0" fill="#008000"/>
<rect x="114" y="460" width="3" height="67.0" fill="#008000"/>
<rect x="118" y="460" width="3" height="67.0" fill="#008000"/>
<rect x="122" y="460" width="3" height="63.0" fill="#008000"/>
<rect x="126" y="460" width="3" height="56.0" fill="#008000"/>
<rect x="130" y="460" width="3" height="58.0" fill="#FF0000"/>
<rect x="134" y="460" width="3" height="62.0" fill="#FF0000"/>
<rect x="138" y="460" width="3" height="44.0" fill="#008000"/>
<rect x="142" y="460" width="3" height="34.0" fill="#008000"/>
<rect x="146" y="460" width="3" height="33.0" fill="#008000"/>
<rect x="150" y="460" width="3" height="28.0" fill="#008000"/>
<rect x="154" y="460" width="3" height="30.0" fill="#FF0000"/>
<rect x="158" y="460" width="3" height="37.0" fill="#FF0000"/>
<rect x="162" y="460" width="3" height="44.0" fill="#FF0000"/>
<rect x="166" y="460" width="3" height="48.0" fill="#FF0000"/>
<rect x="170" y="460" width="3" height="54.0" fill="#FF0000"/>
<rect x="174" y="460" width="3" height="57.0" fill="#FF0000"/>
<rect x="178" y="460" width="3" height="58.0" fill="#FF0000"/>
<rect x="182" y="460" width="3" height="31.0" fill="#008000"/>
<rect x="186" y="460" width="3" height="20.0" fill="#008000"/>
<rect x="190" y="460" width="3" height="7.0" fill="#008000"/>
<rect x="194" y="459.0" width="3" height="1.0" fill="#008000"/>
<rect x="198" y="453.0" width="3" height="7.0" fill="#008000"/>
<rect x="202" y="453.0" width="3" height="7.0" fill="#FF0000"/>
<rect x="206" y="448.0" width="3" height="12.0" fill="#008000"/>
<rect x="210" y="441.0" width="3" height="19.0" fill="#008000"/>
<rect x="214" y="434.0" width="3" height="26.0" fill="#008000"/>
<rect x="218" y="434.0" width="3" height="26.0" fill="#008000"/>
<rect x="222" y="434.0" width="3" height="26.0" fill="#008000"/>
<rect x="226" y="433.0" width="3" height="27.0" fill="#008000"/>
<rect x="230" y="434.0" width="3" height="26.0" fill="#008000"/>
<rect x="234" y="434.0" width="3" height="26.0" fill="#FF0000"/>
<rect x="238" y="441.0" width="3" height="19.0" fill="#FF0000"/>
<rect x="242" y="437.0" width="3" height="23.0" fill="#008000"/>
<rect x="246" y="437.0" width="3" height="23.0" fill="#FF0000"/>
<rect x="250" y="439.0" width="3" height="21.0" fill="#FF0000"/>
<rect x="254" y="445.0" width="3" height="15.0" fill="#FF0000"/>
<rect x="258" y="454.0" width="3" height="6.0" fill="#FF0000"/>
<rect x="262" y="438.0" width="3" height="22.0" fill="#008000"/>
<rect x="266" y="437.0" width="3" height="23.0" fill="#008000"/>
<rect x="270" y="443.0" width="3" height="17.0" fill="#FF0000"/>
<rect x="274" y="455.0" width="3" height="5.0" fill="#FF0000"/>
<rect x="278" y="460" width="3" height="1.0" fill="#FF0000"/>
<rect x="282" y="460" width="3" height="2.0" fill="#FF0000"/>
<rect x="286" y="460" width="3" height="5.0" fill="#FF0000"/>
<rect x="290" y="460" width="3" height="8.0" fill="#FF0000"/>
<rect x="294" y="460" width="3" height="10.0" fill="#FF0000"/>
<rect x="298" y="460" width="3" height="10.0" fill="#FF0000"/>
<rect x="302" y="460" width="3" height="14.0" fill="#FF0000"/>
<rect x="306" y="460" width="3" height="18.0" fill="#FF0000"/>
<rect x="310" y="460" width="3" height="22.0" fill="#FF0000"/>
<rect x="314" y="460" width="3" height="25.0" fill="#FF0000"/>
<rect x="318" y="460" width="3" height="23.0" fill="#008000"/>
<rect x="322" y="460" width="3" height="19.0" fill="#008000"/>
<rect x="326" y="460" width="3" height="13.0" fill="#008000"/>
<rect x="330" y="460" width="3" height="12.0" fill="#008000"/>
<rect x="334" y="460" width="3" height="40.0" fill="#FF0000"/>
<rect x="338" y="460" width="3" height="51.0" fill="#FF0000"/>
<rect x="342" y="460" width="3" height="55.0" fill="#FF0000"/>
<rect x="346" y="460" width="3" height="60.0" fill="#FF0000"/>
<rect x="350" y="460" width="3" height="58.0" fill="#008000"/>
<rect x="354" y="460" width="3" height="46.0" fill="#008000"/>
<rect x="358" y="460" width="3" height="32.0" fill="#008000"/>
<rect x="362" y="460" width="3" height="23.0" fill="#008000"/>
<rect x="366" y="460" width="3" height="21.0" fill="#008000"/>
<rect x="370" y="460" width="3" height="20.0" fill="#008000"/>
<rect x="374" y="460" width="3" height="20.0" fill="#008000"/>
<rect x="378" y="460" width="3" height="20.0" fill="#FF0000"/>
<rect x="382" y="460" width="3" height="22.0" fill="#FF0000"/>
<rect x="386" y="460" width="3" height="23.0" fill="#FF0000"/>
<rect x="390" y="460" width="3" height="20.0" fill="#008000"/>
<rect x="394" y="460" width="3" height="19.0" fill="#008000"/>
<rect x="398" y="460" width="3" height="19.0" fill="#008000"/>
<rect x="402" y="460" width="3" height="19.0" fill="#008000"/>
<rect x="406" y="460" width="3" height="21.0" fill="#FF0000"/>
<rect x="410" y="460" width="3" height="21.0" fill="#FF0000"/>
<rect x="414" y="460" width="3" height="21.0" fill="#FF0000"/>
<rect x="418" y="460" width="3" height="15.0" fill="#008000"/>
<rect x="422" y="460" width="3" height="16.0" fill="#FF0000"/>
<rect x="426" y="460" width="3" height="22.0" fill="#FF0000"/>
<rect x="430" y="460" width="3" height="31.0" fill="#FF0000"/>
<rect x="434" y="460" width="3" height="30.0" fill="#008000"/>
<rect x="438" y="460" width="3" height="28.0" fill="#008000"/>
<rect x="442" y="460" width="3" height="32.0" fill="#FF0000"/>
<rect x="446" y="460" width="3" height="32.0" fill="#FF0000"/>
<rect x="450" y="460" width="3" height="18.0" fill="#008000"/>
<rect x="454" y="460" width="3" height="18.0" fill="#008000"/>
<rect x="458" y="460" width="3" height="28.0" fill="#FF0000"/>
<rect x="462" y="460" width="3" height="34.0" fill="#FF0000"/>
<rect x="466" y="460" width="3" height="38.0" fill="#FF0000"/>
<rect x="470" y="460" width="3" height="42.0" fill="#FF0000"/>
<rect x="474" y="460" width="3" height="44.0" fill="#FF0000"/>
<rect x="478" y="460" width="3" height="45.0" fill="#FF0000"/>
<rect x="482" y="460" width="3" height="49.0" fill="#FF0000"/>
<rect x="486" y="460" width="3" height="47.0" fill="#008000"/>
<rect x="490" y="460" width="3" height="44.0" fill="#008000"/>
<rect x="494" y="460" width="3" height="39.0" fill="#008000"/>
<rect x="498" y="460" width="3" height="37.0" fill="#008000"/>
<rect x="502" y="460" width="3" height="35.0" fill="#008000"/>
<rect x="506" y="460" width="3" height="33.0" fill="#008000"/>
<rect x="510" y="460" width="3" height="29.0" fill="#008000"/>
<rect x="514" y="460" width="3" height="25.0" fill="#008000"/>
<rect x="518" y="460" width="3" height="26.0" fill="#FF0000"/>
<rect x="522" y="460" width="3" height="36.0" fill="#FF0000"/>
<rect x="526" y="460" width="3" height="43.0" fill="#FF0000"/>
<rect x="530" y="460" width="3" height="47.0" fill="#FF0000"/>
<rect x="534" y="460" width="3" height="51.0" fill="#FF0000"/>
<rect x="538" y="460" width="3" height="64.0" fill="#FF0000"/>
<rect x="542" y="460" width="3" height="81.0" fill="#FF0000"/>
<rect x="546" y="460" width="3" height="102.0" fill="#FF0000"/>
<rect x="550" y="460" width="3" height="110.0" fill="#FF0000"/>
<rect x="554" y="460" width="3" height="112.0" fill="#FF0000"/>
<rect x="558" y="460" width="3" height="110.0" fill="#008000"/>
<rect x="562" y="460" width="3" height="103.0" fill="#008000"/>
<rect x="566" y="460" width="3" height="98.0" fill="#008000"/>
<rect x="570" y="460" width="3" height="95.0" fill="#008000"/>
<rect x="574" y="460" width="3" height="90.0" fill="#008000"/>
<rect x="578" y="460" width="3" height="83.0" fill="#008000"/>
<rect x="582" y="460" width="3" height="78.0" fill="#008000"/>
<rect x="586" y="460" width="3" height="73.0" fill="#008000"/>
<rect x="590" y="460" width="3" height="70.0" fill="#008000"/>
<rect x="594" y="460" width="3" height="67.0" fill="#008000"/>
<rect x="598" y="460" width="3" height="62.0" fill="#008000"/>
<rect x="602" y="460" width="3" height="59.0" fill="#008000"/>
<rect x="606" y="460" width="3" height="59.0" fill="#008000"/>
<rect x="610" y="460" width="3" height="63.0" fill="#FF0000"/>
<rect x="614" y="460" width="3" height="51.0" fill="#008000"/>
<rect x="618" y="460" width="3" height="43.0" fill="#008000"/>
<rect x="622" y="460" width="3" height="37.0" fill="#008000"/>
<rect x="626" y="460" width="3" height="39.0" fill="#FF0000"/>
<rect x="630" y="460" width="3" height="39.0" fill="#008000"/>
<rect x="634" y="460" width="3" height="33.0" fill="#008000"/>
<rect x="638" y="460" width="3" height="27.0" fill="#008000"/>
<rect x="642" y="460" width="3" height="24.0" fill="#008000"/>
<rect x="646" y="460" width="3" height="26.0" fill="#FF0000"/>
<rect x="650" y="460" width="3" height="28.0" fill="#FF0000"/>
<rect x="654" y="460" width="3" height="35.0" fill="#FF0000"/>
<rect x="658" y="460" width="3" height="40.0" fill="#FF0000"/>
<rect x="662" y="460" width="3" height="43.0" fill="#FF0000"/>
<rect x="666" y="460" width="3" height="47.0" fill="#FF0000"/>
<rect x="670" y="460" width="3" height="48.0" fill="#FF0000"/>
<rect x="674" y="460" width="3" height="46.0" fill="#008000"/>
<rect x="678" y="460" width="3" height="45.0" fill="#008000"/>
<rect x="682" y="460" width="3" height="45.0" fill="#008000"/>
<rect x="686" y="460" width="3" height="44.0" fill="#008000"/>
<rect x="690" y="460" width="3" height="43.0" fill="#008000"/>
<rect x="694" y="460" width="3" height="40.0" fill="#008000"/>
<rect x="698" y="460" width="3" height="37.0" fill="#008000"/>
<rect x="702" y="460" width="3" height="33.0" fill="#008000"/>
<rect x="706" y="460" width="3" height="39.0" fill="#FF0000"/>
<rect x="710" y="460" width="3" height="45.0" fill="#FF0000"/>
<rect x="714" y="460" width="3" height="50.0" fill="#FF0000"/>
<rect x="718" y="460" width="3" height="56.0" fill="#FF0000"/>
<rect x="722" y="460" width="3" height="63.0" fill="#FF0000"/>
<path d="M3 450h1v1h-1zM4 451h1v1h-1zM5 451h1v1h-1zM6 452h1v1h-1zM7 452h1v1h-1zM8 453h1v1h-1zM9 454h1v1h-1zM10 454h1v1h-1zM11 455h1v1h-1zM12 456h1v1h-1zM13 457h1v1h-1zM14 457h1v1h-1zM15 458h1v1h-1zM16 459h1v1h-1zM17 459h1v1h-1zM18 460h1v1h-1zM19 460h1v1h-1zM20 461h1v1h-1zM21 461h1v1h-1zM22 462h1v1h-1zM23 462h1v1h-1zM24 462h1v1h-1zM25 463h1v1h-1zM26 463h1v1h-1zM27 463h1v1h-1zM28 463h1v1h-1zM29 463h1v1h-1zM30 463h1v1h-1zM31 463h1v1h-1zM32 463h1v1h-1zM33 463h1v1h-1zM34 463h1v1h-1zM35 463h1v1h-1zM36 463h1v1h-1zM37 464h1v1h-1zM38 464h1v1h-1zM39 464h1v1h-1zM40 464h1v1h-1zM41 464h1v1h-1zM42 463h1v1h-1zM43 463h1v1h-1zM44 463h1v1h-1zM45 462h1v1h-1zM46 462h1v1h-1zM47 461h1v1h-1zM48 460h1v1h-1zM49 460h1v1h-1zM50 459h1v1h-1zM51 458h1v1h-1zM52 458h1v1h-1zM53 457h1v1h-1zM54 457h1v1h-1zM55 456h1v1h-1zM56 455h1v1h-1zM57 455h1v1h-1zM58 454h1v1h-1zM59 453h1v1h-1zM60 452h1v1h-1zM61 450h1v2h-1zM62 449h1v1h-1zM63 448h1v1h-1zM64 447h1v1h-1zM65 446h1v1h-1zM66 445h1v1h-1zM67 444h1v1h-1zM68 444h1v1h-1zM69 444h1v1h-1zM70 444h1v1h-1zM71 444h1v1h-1zM72 445h1v1h-1zM73 445h1v1h-1zM74 446h1v1h-1zM75 446h1v1h-1zM76 447h1v1h-1zM77 448h1v1h-1zM78 449h1v1h-1zM79 450h1v1h-1zM80 451h1v2h-1zM81 453h1v2h-1zM82 455h1v2h-1zM83 457h1v2h-1zM84 459h1v3h-1zM85 462h1v4h-1zM86 466h1v3h-1zM87 469h1v3h-1zM88 472h1v4h-1zM89 476h1v3h-1zM90 479h1v4h-1zM91 483h1v3h-1zM92 486h1v4h-1zM93 490h1v3h-1zM94 493h1v4h-1zM95 497h1v3h-1zM96 500h1v4h-1zM97 504h1v4h-1zM98 508h1v4h-1zM99 512h1v3h-1zM100 515h1v4h-1zM101 519h1v4h-1zM102 523h1v4h-1zM103 527h1v3h-1zM104 530h1v2h-1zM105 532h1v2h-1zM106 534h1v2h-1zM107 536h1v2h-1zM108 538h1v1h-1zM109 539h1v1h-1zM110 539h1v1h-1zM111 540h1v1h-1zM112 539h1v1h-1zM113 538h1v1h-1zM114 537h1v1h-1zM115 536h1v1h-1zM116 535h1v1h-1zM117 535h1v1h-1zM118 534h1v1h-1zM119 533h1v1h-1zM120 532h1v1h-1zM121 530h1v2h-1zM122 529h1v1h-1zM123 528h1v1h-1zM124 527h1v1h-1zM125 525h1v2h-1zM126 524h1v1h-1zM127 523h1v1h-1zM128 522h1v1h-1zM129 522h1v1h-1zM130 521h1v1h-1zM131 520h1v1h-1zM132 520h1v1h-1zM133 520h1v1h-1zM134 519h1v1h-1zM135 519h1v1h-1zM136 518h1v1h-1zM137 516h1v2h-1zM138 515h1v1h-1zM139 514h1v1h-1zM140 513h1v1h-1zM141 511h1v2h-1zM142 510h1v1h-1zM143 509h1v1h-1zM144 508h1v1h-1zM145 506h1v2h-1zM146 505h1v1h-1zM147 504h1v1h-1zM148 502h1v2h-1zM149 501h1v1h-1zM150 499h1v2h-1zM151 498h1v1h-1zM152 496h1v2h-1zM153 495h1v1h-1zM154 493h1v2h-1zM155 492h1v1h-1zM156 492h1v1h-1zM157 492h1v1h-1zM158 491h1v1h-1zM159 491h1v1h-1zM160 492h1v1h-1zM161 492h1v1h-1zM162 493h1v1h-1zM163 493h1v1h-1zM164 494h1v1h-1zM165 495h1v1h-1zM166 496h1v1h-1zM167 497h1v1h-1zM168 498h1v1h-1zM169 499h1v2h-1zM170 501h1v1h-1zM171 502h1v1h-1zM172 503h1v1h-1zM173 504h1v2h-1zM174 506h1v1h-1zM175 507h1v1h-1zM176 508h1v1h-1zM177 509h1v1h-1zM178 510h1v1h-1zM179 511h1v1h-1zM180 511h1v1h-1zM181 510h1v1h-1zM182 510h1v1h-1zM183 509h1v1h-1zM184 507h1v2h-1zM185 505h1v2h-1zM186 503h1v2h-1zM187 501h1v2h-1zM188 499h1v2h-1zM189 497h1v2h-1zM190 495h1v2h-1zM191 492h1v3h-1zM192 489h1v3h-1zM193 486h1v3h-1zM194 483h1v3h-1zM195 480h1v3h-1zM196 477h1v3h-1zM197 475h1v2h-1zM198 472h1v3h-1zM199 470h1v2h-1zM200 468h1v2h-1zM201 466h1v2h-1zM202 464h1v2h-1zM203 462h1v2h-1zM204 460h1v2h-1zM205 459h1v1h-1zM206 457h1v2h-1zM207 456h1v1h-1zM208 454h1v2h-1zM209 453h1v1h-1zM210 451h1v2h-1zM211 450h1v1h-1zM212 449h1v1h-1zM213 447h1v2h-1zM214 446h1v1h-1zM215 445h1v1h-1zM216 444h1v1h-1zM217 442h1v2h-1zM218 441h1v1h-1zM219 440h1v1h-1zM220 439h1v1h-1zM221 438h1v1h-1zM222 437h1v1h-1zM223 436h1v1h-1zM224 436h1v1h-1zM225 435h1v1h-1zM226 435h1v1h-1zM227 434h1v1h-1zM228 434h1v1h-1zM229 434h1v1h-1zM230 433h1v1h-1zM231 433h1v1h-1zM232 433h1v1h-1zM233 433h1v1h-1zM234 433h1v1h-1zM235 433h1v1h-1zM236 433h1v1h-1zM237 434h1v1h-1zM238 434h1v1h-1zM239 434h1v1h-1zM240 434h1v1h-1zM241 435h1v1h-1zM242 435h1v1h-1zM243 435h1v1h-1zM244 435h1v1h-1zM245 436h1v1h-1zM246 436h1v1h-1zM247 436h1v1h-1zM248 437h1v1h-1zM249 437h1v1h-1zM250 438h1v1h-1zM251 438h1v1h-1zM252 439h1v1h-1zM253 439h1v1h-1zM254 440h1v1h-1zM255 440h1v1h-1zM256 441h1v1h-1zM257 441h1v1h-1zM258 442h1v1h-1zM259 442h1v1h-1zM260 442h1v1h-1zM261 443h1v1h-1zM262 443h1v1h-1zM263 443h1v1h-1zM264 443h1v1h-1zM265 443h1v1h-1zM266 443h1v1h-1zM267 443h1v1h-1zM268 443h1v1h-1zM269 443h1v1h-1zM270 443h1v1h-1zM271 443h1v1h-1zM272 444h1v1h-1zM273 444h1v1h-1zM274 445h1v1h-1zM275 445h1v1h-1zM276 446h1v1h-1zM277 446h1v1h-1zM278 447h1v1h-1zM279 447h1v1h-1zM280 448h1v1h-1zM281 449h1v1h-1zM282 450h1v1h-1zM283 451h1v1h-1zM284 452h1v1h-1zM285 453h1v2h-1zM286 455h1v1h-1zM287 456h1v1h-1zM288 457h1v1h-1zM289 458h1v2h-1zM290 460h1v1h-1zM291 461h1v1h-1zM292 462h1v1h-1zM293 463h1v1h-1zM294 463h1v1h-1zM295 464h1v1h-1zM296 465h1v1h-1zM297 465h1v1h-1zM298 466h1v1h-1zM299 466h1v1h-1zM300 467h1v1h-1zM301 468h1v1h-1zM302 468h1v1h-1zM303 469h1v1h-1zM304 470h1v1h-1zM305 470h1v1h-1zM306 471h1v1h-1zM307 471h1v1h-1zM308 472h1v1h-1zM309 473h1v1h-1zM310 474h1v1h-1zM311 475h1v1h-1zM312 476h1v1h-1zM313 476h1v1h-1zM314 477h1v1h-1zM315 477h1v1h-1zM316 478h1v1h-1zM317 479h1v1h-1zM318 479h1v1h-1zM319 480h1v1h-1zM320 480h1v1h-1zM321 481h1v1h-1zM322 481h1v1h-1zM323 481h1v1h-1zM324 480h1v1h-1zM325 480h1v1h-1zM326 479h1v1h-1zM327 478h1v1h-1zM328 478h1v1h-1zM329 478h1v1h-1zM330 477h1v1h-1zM331 477h1v1h-1zM332 478h1v1h-1zM333 479h1v1h-1zM334 479h1v1h-1zM335 480h1v1h-1zM336 481h1v2h-1zM337 483h1v1h-1zM338 484h1v2h-1zM339 486h1v2h-1zM340 488h1v2h-1zM341 490h1v2h-1zM342 492h1v2h-1zM343 494h1v2h-1zM344 496h1v2h-1zM345 498h1v2h-1zM346 500h1v2h-1zM347 502h1v2h-1zM348 504h1v2h-1zM349 506h1v2h-1zM350 508h1v2h-1zM351 510h1v2h-1zM352 512h1v1h-1zM353 512h1v1h-1zM354 513h1v1h-1zM355 513h1v1h-1zM356 512h1v1h-1zM357 510h1v2h-1zM358 509h1v1h-1zM359 508h1v1h-1zM360 506h1v2h-1zM361 504h1v2h-1zM362 502h1v2h-1zM363 501h1v1h-1zM364 499h1v2h-1zM365 497h1v2h-1zM366 495h1v2h-1zM367 494h1v1h-1zM368 492h1v2h-1zM369 490h1v2h-1zM370 488h1v2h-1zM371 487h1v1h-1zM372 485h1v2h-1zM373 484h1v1h-1zM374 482h1v2h-1zM375 481h1v1h-1zM376 481h1v1h-1zM377 481h1v1h-1zM378 480h1v1h-1zM379 480h1v1h-1zM380 480h1v1h-1zM381 480h1v1h-1zM382 480h1v1h-1zM383 480h1v1h-1zM384 480h1v1h-1zM385 480h1v1h-1zM386 480h1v1h-1zM387 480h1v1h-1zM388 480h1v1h-1zM389 480h1v1h-1zM390 480h1v1h-1zM391 480h1v1h-1zM392 480h1v1h-1zM393 480h1v1h-1zM394 480h1v1h-1zM395 480h1v1h-1zM396 480h1v1h-1zM397 480h1v1h-1zM398 480h1v1h-1zM399 480h1v1h-1zM400 480h1v1h-1zM401 480h1v1h-1zM402 479h1v1h-1zM403 479h1v1h-1zM404 479h1v1h-1zM405 479h1v1h-1zM406 479h1v1h-1zM407 479h1v1h-1zM408 479h1v1h-1zM409 479h1v1h-1zM410 479h1v1h-1zM411 479h1v1h-1zM412 479h1v1h-1zM413 479h1v1h-1zM414 479h1v1h-1zM415 479h1v1h-1zM416 479h1v1h-1zM417 479h1v1h-1zM418 478h1v1h-1zM419 478h1v1h-1zM420 478h1v1h-1zM421 478h1v1h-1zM422 478h1v1h-1zM423 478h1v1h-1zM424 478h1v1h-1zM425 478h1v1h-1zM426 478h1v1h-1zM427 478h1v1h-1zM428 479h1v1h-1zM429 479h1v1h-1zM430 480h1v1h-1zM431 480h1v1h-1zM432 481h1v1h-1zM433 481h1v1h-1zM434 482h1v1h-1zM435 482h1v1h-1zM436 483h1v1h-1zM437 484h1v1h-1zM438 484h1v1h-1zM439 485h1v1h-1zM440 486h1v1h-1zM441 487h1v1h-1zM442 487h1v1h-1zM443 488h1v1h-1zM444 489h1v1h-1zM445 489h1v1h-1zM446 490h1v1h-1zM447 490h1v1h-1zM448 489h1v1h-1zM449 488h1v1h-1zM450 487h1v1h-1zM451 486h1v1h-1zM452 486h1v1h-1zM453 486h1v1h-1zM454 485h1v1h-1zM455 485h1v1h-1zM456 485h1v1h-1zM457 485h1v1h-1zM458 485h1v1h-1zM459 485h1v1h-1zM460 485h1v1h-1zM461 485h1v1h-1zM462 485h1v1h-1zM463 485h1v1h-1zM464 485h1v1h-1zM465 486h1v1h-1zM466 486h1v1h-1zM467 486h1v1h-1zM468 487h1v1h-1zM469 488h1v2h-1zM470 490h1v1h-1zM471 491h1v1h-1zM472 492h1v1h-1zM473 493h1v2h-1zM474 495h1v1h-1zM475 496h1v1h-1zM476 497h1v1h-1zM477 498h1v1h-1zM478 499h1v1h-1zM479 500h1v1h-1zM480 501h1v1h-1zM481 502h1v1h-1zM482 502h1v1h-1zM483 503h1v1h-1zM484 504h1v1h-1zM485 504h1v1h-1zM486 505h1v1h-1zM487 505h1v1h-1zM488 505h1v1h-1zM489 505h1v1h-1zM490 505h1v1h-1zM491 505h1v1h-1zM492 505h1v1h-1zM493 505h1v1h-1zM494 504h1v1h-1zM495 504h1v1h-1zM496 504h1v1h-1zM497 503h1v1h-1zM498 503h1v1h-1zM499 502h1v1h-1zM500 501h1v1h-1zM501 501h1v1h-1zM502 500h1v1h-1zM503 499h1v1h-1zM504 498h1v1h-1zM505 498h1v1h-1zM506 497h1v1h-1zM507 496h1v1h-1zM508 495h1v1h-1zM509 495h1v1h-1zM510 494h1v1h-1zM511 493h1v1h-1zM512 493h1v1h-1zM513 492h1v1h-1zM514 492h1v1h-1zM515 491h1v1h-1zM516 491h1v1h-1zM517 490h1v1h-1zM518 490h1v1h-1zM519 489h1v1h-1zM520 489h1v1h-1zM521 489h1v1h-1zM522 489h1v1h-1zM523 489h1v1h-1zM524 490h1v1h-1zM525 490h1v1h-1zM526 491h1v1h-1zM527 491h1v1h-1zM528 492h1v1h-1zM529 493h1v1h-1zM530 494h1v1h-1zM531 495h1v1h-1zM532 496h1v2h-1zM533 498h1v1h-1zM534 499h1v2h-1zM535 501h1v1h-1zM536 502h1v2h-1zM537 504h1v2h-1zM538 506h1v2h-1zM539 508h1v2h-1zM540 510h1v2h-1zM541 512h1v2h-1zM542 514h1v2h-1zM543 516h1v3h-1zM544 519h1v3h-1zM545 522h1v2h-1zM546 524h1v3h-1zM547 527h1v3h-1zM548 530h1v3h-1zM549 533h1v3h-1zM550 536h1v3h-1zM551 539h1v3h-1zM552 542h1v3h-1zM553 545h1v3h-1zM554 548h1v3h-1zM555 551h1v3h-1zM556 554h1v2h-1zM557 556h1v2h-1zM558 558h1v2h-1zM559 560h1v2h-1zM560 562h1v1h-1zM561 563h1v2h-1zM562 565h1v1h-1zM563 566h1v1h-1zM564 566h1v1h-1zM565 566h1v1h-1zM566 566h1v1h-1zM567 566h1v1h-1zM568 565h1v1h-1zM569 565h1v1h-1zM570 564h1v1h-1zM571 563h1v1h-1zM572 562h1v1h-1zM573 560h1v2h-1zM574 559h1v1h-1zM575 558h1v1h-1zM576 557h1v1h-1zM577 555h1v2h-1zM578 554h1v1h-1zM579 553h1v1h-1zM580 551h1v2h-1zM581 550h1v1h-1zM582 548h1v2h-1zM583 547h1v1h-1zM584 546h1v1h-1zM585 544h1v2h-1zM586 543h1v1h-1zM587 542h1v1h-1zM588 540h1v2h-1zM589 539h1v1h-1zM590 537h1v2h-1zM591 536h1v1h-1zM592 535h1v1h-1zM593 534h1v1h-1zM594 533h1v1h-1zM595 532h1v1h-1zM596 531h1v1h-1zM597 530h1v1h-1zM598 529h1v1h-1zM599 528h1v1h-1zM600 527h1v1h-1zM601 526h1v1h-1zM602 525h1v1h-1zM603 524h1v1h-1zM604 524h1v1h-1zM605 523h1v1h-1zM606 523h1v1h-1zM607 522h1v1h-1zM608 522h1v1h-1zM609 521h1v1h-1zM610 521h1v1h-1zM611 520h1v1h-1zM612 520h1v1h-1zM613 519h1v1h-1zM614 519h1v1h-1zM615 518h1v1h-1zM616 517h1v1h-1zM617 516h1v1h-1zM618 515h1v1h-1zM619 514h1v1h-1zM620 513h1v1h-1zM621 512h1v1h-1zM622 511h1v1h-1zM623 510h1v1h-1zM624 509h1v1h-1zM625 507h1v2h-1zM626 506h1v1h-1zM627 505h1v1h-1zM628 504h1v1h-1zM629 502h1v2h-1zM630 501h1v1h-1zM631 500h1v1h-1zM632 499h1v1h-1zM633 498h1v1h-1zM634 497h1v1h-1zM635 496h1v1h-1zM636 495h1v1h-1zM637 495h1v1h-1zM638 494h1v1h-1zM639 493h1v1h-1zM640 492h1v1h-1zM641 492h1v1h-1zM642 491h1v1h-1zM643 490h1v1h-1zM644 490h1v1h-1zM645 489h1v1h-1zM646 489h1v1h-1zM647 488h1v1h-1zM648 488h1v1h-1zM649 488h1v1h-1zM650 487h1v1h-1zM651 487h1v1h-1zM652 487h1v1h-1zM653 487h1v1h-1zM654 487h1v1h-1zM655 487h1v1h-1zM656 488h1v1h-1zM657 489h1v1h-1zM658 489h1v1h-1zM659 490h1v1h-1zM660 491h1v1h-1zM661 492h1v1h-1zM662 493h1v1h-1zM663 494h1v1h-1zM664 495h1v1h-1zM665 496h1v1h-1zM666 497h1v1h-1zM667 498h1v1h-1zM668 499h1v1h-1zM669 500h1v1h-1zM670 501h1v1h-1zM671 502h1v1h-1zM672 503h1v1h-1zM673 503h1v1h-1zM674 504h1v1h-1zM675 504h1v1h-1zM676 504h1v1h-1zM677 505h1v1h-1zM678 505h1v1h-1zM679 505h1v1h-1zM680 505h1v1h-1zM681 505h1v1h-1zM682 505h1v1h-1zM683 505h1v1h-1zM684 505h1v1h-1zM685 505h1v1h-1zM686 504h1v1h-1zM687 504h1v1h-1zM688 504h1v1h-1zM689 504h1v1h-1zM690 504h1v1h-1zM691 504h1v1h-1zM692 504h1v1h-1zM693 503h1v1h-1zM694 503h1v1h-1zM695 502h1v1h-1zM696 502h1v1h-1zM697 502h1v1h-1zM698 501h1v1h-1zM699 501h1v1h-1zM700 500h1v1h-1zM701 500h1v1h-1zM702 499h1v1h-1zM703 498h1v1h-1zM704 498h1v1h-1zM705 498h1v1h-1zM706 497h1v1h-1zM707 497h1v1h-1zM708 497h1v1h-1zM709 498h1v1h-1zM710 498h1v1h-1zM711 498h1v1h-1zM712 499h1v1h-1zM713 499h1v1h-1zM714 500h1v1h-1zM715 500h1v1h-1zM716 501h1v1h-1zM717 502h1v2h-1zM718 504h1v1h-1zM719 505h1v1h-1zM720 506h1v1h-1zM721 507h1v2h-1zM722 509h1v1h-1zM723 510h1v1h-1zM724 511h1v1h-1zM725 512h1v2h-1zM726 514h1v1h-1zM727 515h1v1h-1z" fill="#0000FF"/>
<rect x="2" y="2" width="753" height="1" fill="#000"/>
<rect x="2" y="2" width="1" height="419" fill="#000"/>
<rect x="754" y="2" width="1" height="419" fill="#000"/>
<rect x="754" y="422" width="1" height="158" fill="#000"/>
<rect x="2" y="420" width="753" height="1" fill="#000"/>
<rect x="2" y="422" width="753" height="1" fill="#000"/>
<rect x="2" y="422" width="1" height="158" fill="#000"/>
<rect x="2" y="579" width="753" height="1" fill="#000"/>
<g font-family="'Liberation Sans', Arial, sans-serif" font-size="9.8px" text-rendering="geometricPrecision" shape-rendering="auto" stroke-width="0.25">
<rect x="755" y="21" width="2" height="1" fill="#000" shape-rendering="crispEdges"/>
<text transform="translate(760.2 25) scale(0.93 1)" fill="#000" stroke="#000" >1.32200</text>
<rect x="755" y="54" width="2" height="1" fill="#000" shape-rendering="crispEdges"/>
<text transform="translate(760.2 58) scale(0.93 1)" fill="#000" stroke="#000" >1.31720</text>
<rect x="755" y="87" width="2" height="1" fill="#000" shape-rendering="crispEdges"/>
<text transform="translate(760.2 91) scale(0.93 1)" fill="#000" stroke="#000" >1.31250</text>
<rect x="755" y="120" width="2" height="1" fill="#000" shape-rendering="crispEdges"/>
<text transform="translate(760.2 124) scale(0.93 1)" fill="#000" stroke="#000" >1.30780</text>
<rect x="755" y="153" width="2" height="1" fill="#000" shape-rendering="crispEdges"/>
<text transform="translate(760.2 157) scale(0.93 1)" fill="#000" stroke="#000" >1.30300</text>
<rect x="755" y="186" width="2" height="1" fill="#000" shape-rendering="crispEdges"/>
<text transform="translate(760.2 190) scale(0.93 1)" fill="#000" stroke="#000" >1.29830</text>
<rect x="755" y="219" width="2" height="1" fill="#000" shape-rendering="crispEdges"/>
<text transform="translate(760.2 223) scale(0.93 1)" fill="#000" stroke="#000" >1.29350</text>
<rect x="755" y="252" width="2" height="1" fill="#000" shape-rendering="crispEdges"/>
<text transform="translate(760.2 256) scale(0.93 1)" fill="#000" stroke="#000" >1.28880</text>
<rect x="755" y="285" width="2" height="1" fill="#000" shape-rendering="crispEdges"/>
<text transform="translate(760.2 289) scale(0.93 1)" fill="#000" stroke="#000" >1.28410</text>
<rect x="755" y="318" width="2" height="1" fill="#000" shape-rendering="crispEdges"/>
<text transform="translate(760.2 322) scale(0.93 1)" fill="#000" stroke="#000" >1.27930</text>
<rect x="755" y="351" width="2" height="1" fill="#000" shape-rendering="crispEdges"/>
<text transform="translate(760.2 355) scale(0.93 1)" fill="#000" stroke="#000" >1.27460</text>
<rect x="755" y="384" width="2" height="1" fill="#000" shape-rendering="crispEdges"/>
<text transform="translate(760.2 388) scale(0.93 1)" fill="#000" stroke="#000" >1.26990</text>
<rect x="755" y="417" width="2" height="1" fill="#000" shape-rendering="crispEdges"/>
<text transform="translate(760.2 421) scale(0.93 1)" fill="#000" stroke="#000" >1.26510</text>
<rect x="755" y="424" width="1" height="1" fill="#000" shape-rendering="crispEdges"/>
<rect x="755" y="460" width="1" height="1" fill="#000" shape-rendering="crispEdges"/>
<rect x="755" y="578" width="1" height="1" fill="#000" shape-rendering="crispEdges"/>
<text transform="translate(758.2 433) scale(0.93 1)" fill="#000" stroke="#000" >0.0021179</text>
<text transform="translate(758.2 464) scale(0.93 1)" fill="#000" stroke="#000" >0.00</text>
<text transform="translate(758.2 576) scale(0.93 1)" fill="#000" stroke="#000" >-0.0067670</text>
<rect x="756" y="21" width="41" height="11" fill="#FF0000" shape-rendering="crispEdges"/>
<text transform="translate(760.2 30) scale(0.93 1)" fill="#fff" stroke="#fff" >1.32107</text>
<rect x="756" y="57" width="41" height="11" fill="#FF0000" shape-rendering="crispEdges"/>
<text transform="translate(760.2 66) scale(0.93 1)" fill="#fff" stroke="#fff" >1.31602</text>
<rect x="756" y="131" width="41" height="11" fill="#FF0000" shape-rendering="crispEdges"/>
<text transform="translate(760.2 140) scale(0.93 1)" fill="#fff" stroke="#fff" >1.30529</text>
<rect x="756" y="162" width="41" height="11" fill="#FF0000" shape-rendering="crispEdges"/>
<text transform="translate(760.2 171) scale(0.93 1)" fill="#fff" stroke="#fff" >1.30091</text>
<rect x="756" y="210" width="41" height="11" fill="#FF0000" shape-rendering="crispEdges"/>
<text transform="translate(760.2 219) scale(0.93 1)" fill="#fff" stroke="#fff" >1.29404</text>
<rect x="756" y="287" width="41" height="11" fill="#FF0000" shape-rendering="crispEdges"/>
<text transform="translate(760.2 296) scale(0.93 1)" fill="#fff" stroke="#fff" >1.28293</text>
<rect x="756" y="399" width="41" height="11" fill="#FF0000" shape-rendering="crispEdges"/>
<text transform="translate(760.2 408) scale(0.93 1)" fill="#fff" stroke="#fff" >1.26691</text>
<rect x="756" y="252" width="41" height="11" fill="#000" shape-rendering="crispEdges"/>
<text transform="translate(760.2 261) scale(0.93 1)" fill="#fff" stroke="#fff" >1.28806</text>
<rect x="3" y="580" width="1" height="3" fill="#000" shape-rendering="crispEdges"/>
<text transform="translate(1.8 592) scale(0.944 1)" fill="#000" stroke="#000" >29 Jan 2019</text>
<rect x="67" y="580" width="1" height="3" fill="#000" shape-rendering="crispEdges"/>
<text transform="translate(65.8 592) scale(0.944 1)" fill="#000" stroke="#000" >29 Jan 16:00</text>
<rect x="131" y="580" width="1" height="3" fill="#000" shape-rendering="crispEdges"/>
<text transform="translate(129.8 592) scale(0.944 1)" fill="#000" stroke="#000" >30 Jan 08:00</text>
<rect x="195" y="580" width="1" height="3" fill="#000" shape-rendering="crispEdges"/>
<text transform="translate(193.8 592) scale(0.944 1)" fill="#000" stroke="#000" >31 Jan 00:00</text>
<rect x="259" y="580" width="1" height="3" fill="#000" shape-rendering="crispEdges"/>
<text transform="translate(257.8 592) scale(0.944 1)" fill="#000" stroke="#000" >31 Jan 16:00</text>
<rect x="323" y="580" width="1" height="3" fill="#000" shape-rendering="crispEdges"/>
<text transform="translate(321.8 592) scale(0.956 1)" fill="#000" stroke="#000" >1 Feb 08:00</text>
<rect x="387" y="580" width="1" height="3" fill="#000" shape-rendering="crispEdges"/>
<text transform="translate(385.8 592) scale(0.956 1)" fill="#000" stroke="#000" >4 Feb 01:00</text>
<rect x="451" y="580" width="1" height="3" fill="#000" shape-rendering="crispEdges"/>
<text transform="translate(449.8 592) scale(0.956 1)" fill="#000" stroke="#000" >4 Feb 17:00</text>
<rect x="515" y="580" width="1" height="3" fill="#000" shape-rendering="crispEdges"/>
<text transform="translate(513.8 592) scale(0.956 1)" fill="#000" stroke="#000" >5 Feb 09:00</text>
<rect x="579" y="580" width="1" height="3" fill="#000" shape-rendering="crispEdges"/>
<text transform="translate(577.8 592) scale(0.956 1)" fill="#000" stroke="#000" >6 Feb 01:00</text>
<rect x="643" y="580" width="1" height="3" fill="#000" shape-rendering="crispEdges"/>
<text transform="translate(641.8 592) scale(0.956 1)" fill="#000" stroke="#000" >6 Feb 17:00</text>
<rect x="707" y="580" width="1" height="3" fill="#000" shape-rendering="crispEdges"/>
<text transform="translate(705.8 592) scale(0.956 1)" fill="#000" stroke="#000" >7 Feb 09:00</text>
<rect x="6" y="9" width="7" height="1" fill="#000" shape-rendering="crispEdges"/>
<rect x="7" y="10" width="5" height="1" fill="#000" shape-rendering="crispEdges"/>
<rect x="8" y="11" width="3" height="1" fill="#000" shape-rendering="crispEdges"/>
<rect x="9" y="12" width="1" height="1" fill="#000" shape-rendering="crispEdges"/>
<text transform="translate(18.3 14) scale(0.951 1)" fill="#000" stroke="#000" >GBPUSD,H1</text>
<text transform="translate(78.3 14) scale(0.93 1)" fill="#000" stroke="#000" >1.28893</text>
<text transform="translate(114.3 14) scale(0.93 1)" fill="#000" stroke="#000" >1.28902</text>
<text transform="translate(150.3 14) scale(0.93 1)" fill="#000" stroke="#000" >1.28534</text>
<text transform="translate(186.3 14) scale(0.93 1)" fill="#000" stroke="#000" >1.28806</text>
<text transform="translate(7.5 435) scale(0.954 1)" fill="#000" stroke="#000" >MACD_color(5,34,5)</text>
<text transform="translate(94.7 435) scale(0.93 1)" fill="#000" stroke="#000" >0.00000000</text>
<text transform="translate(146.7 435) scale(0.93 1)" fill="#000" stroke="#000" >0.00000000</text>
<text transform="translate(197 435) scale(0.93 1)" fill="#000" stroke="#000" >-0.00316129</text>
</g>
</svg>
</body></html>
